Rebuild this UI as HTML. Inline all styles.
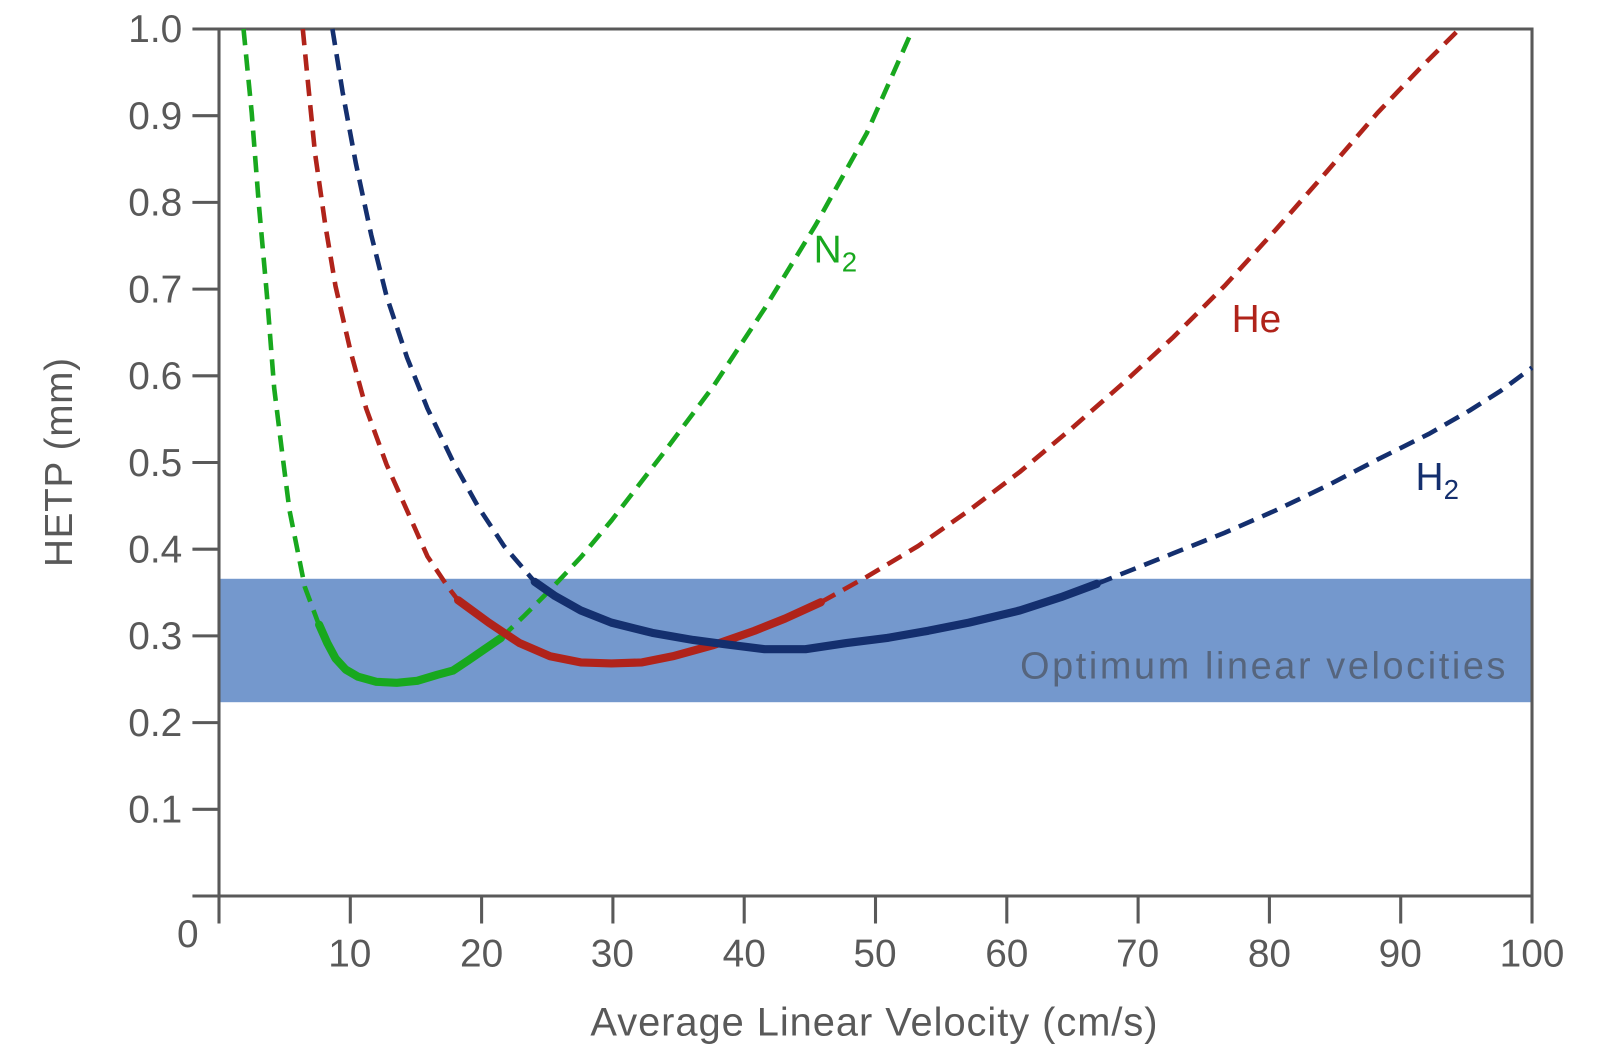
<!DOCTYPE html>
<html><head><meta charset="utf-8"><style>
html,body{margin:0;padding:0;background:#fff;}
svg{display:block;}
text{font-family:"Liberation Sans","DejaVu Sans",sans-serif;fill:#595959;}
</style></head><body>
<svg width="1600" height="1060" viewBox="0 0 1600 1060" xmlns="http://www.w3.org/2000/svg">
<g transform="translate(219,29) scale(1.0218,1.02) translate(-216,-28)">
<rect x="216" y="567" width="1285" height="121" fill="#7498cd"/>
<g fill="none" stroke="#595959" stroke-width="3">
<path d="M216,28 H1501 V878 H190 M216,28 V905 M1501,878 V905"/>
<path d="M190,28H216M190,113H216M190,198H216M190,283H216M190,368H216M190,453H216M190,538H216M190,623H216M190,708H216M190,793H216"/>
<path d="M344.5,878v27M473,878v27M601.5,878v27M730,878v27M858.5,878v27M987,878v27M1115.5,878v27M1244,878v27M1372.5,878v27"/>
</g>
<g font-size="38" text-anchor="end">
<text x="180" y="41">1.0</text><text x="180" y="126">0.9</text><text x="180" y="211">0.8</text><text x="180" y="296">0.7</text><text x="180" y="381">0.6</text><text x="180" y="466">0.5</text><text x="180" y="551">0.4</text><text x="180" y="636">0.3</text><text x="180" y="721">0.2</text><text x="180" y="806">0.1</text><text x="196" y="928">0</text>
</g>
<g font-size="38" text-anchor="middle">
<text x="344" y="947">10</text><text x="473" y="947">20</text><text x="601" y="947">30</text><text x="730" y="947">40</text><text x="858" y="947">50</text><text x="987" y="947">60</text><text x="1115" y="947">70</text><text x="1244" y="947">80</text><text x="1372" y="947">90</text><text x="1501" y="947">100</text>
</g>
<text x="857" y="1015" font-size="39" text-anchor="middle" textLength="555">Average Linear Velocity (cm/s)</text>
<text transform="translate(72,453) rotate(-90)" font-size="38" text-anchor="middle" textLength="205">HETP (mm)</text>
<text x="1000" y="665" font-size="37" textLength="475" style="fill:#56657d">Optimum linear velocities</text>

<!-- N2 green -->
<polyline fill="none" stroke="#18a81e" stroke-width="4.5" stroke-dasharray="16,9" points="240,28 248,110 255,200 263,290 270,380 278,445 285,500 293,540 300,575 313,610"/>
<polyline fill="none" stroke="#18a81e" stroke-width="8" stroke-linejoin="round" stroke-linecap="round" points="314,612 322,630 330,645 340,656 352,663 370,668 390,669 410,667 430,661 445,657 460,647 476,636 492,625"/>
<polyline fill="none" stroke="#18a81e" stroke-width="4.5" stroke-dasharray="16,9" points="492,625 515,603 540,578 570,546 600,510 650,445 700,378 750,302 800,220 850,130 895,28"/>
<text x="798" y="257" font-size="38" style="fill:#18a81e">N<tspan font-size="27" dy="9">2</tspan></text>

<!-- He red -->
<polyline fill="none" stroke="#b0231a" stroke-width="4.5" stroke-dasharray="16,9" points="298,28 304,90 310,150 320,220 330,280 345,345 360,400 380,455 400,500 420,545 440,575 450,588"/>
<polyline fill="none" stroke="#b0231a" stroke-width="8" stroke-linejoin="round" stroke-linecap="round" points="450,588 480,610 510,630 540,643 570,649 600,650 630,649 660,643 700,632 740,618 770,606 805,590"/>
<polyline fill="none" stroke="#b0231a" stroke-width="4.5" stroke-dasharray="16,9" points="805,590 850,565 900,535 950,500 1000,462 1050,420 1100,376 1150,330 1200,280 1250,225 1300,168 1350,110 1390,68 1430,28"/>
<text x="1207" y="325" font-size="38" style="fill:#b0231a">He</text>

<!-- H2 blue -->
<polyline fill="none" stroke="#142f6e" stroke-width="4.5" stroke-dasharray="16,9" points="327,28 337,90 350,160 365,230 380,290 400,350 420,400 445,452 470,497 495,535 525,570"/>
<polyline fill="none" stroke="#142f6e" stroke-width="8" stroke-linejoin="round" stroke-linecap="round" points="525,570 545,584 570,598 600,610 640,620 680,627 710,631 750,636 790,636 830,630 870,625 910,618 950,610 1000,598 1040,585 1075,572"/>
<polyline fill="none" stroke="#142f6e" stroke-width="4.5" stroke-dasharray="16,9" points="1075,572 1110,558 1150,542 1200,522 1250,500 1300,476 1350,450 1400,425 1440,402 1470,383 1501,360"/>
<text x="1387" y="480" font-size="38" style="fill:#142f6e">H<tspan font-size="27" dy="9">2</tspan></text>
</g>
</svg>
</body></html>
